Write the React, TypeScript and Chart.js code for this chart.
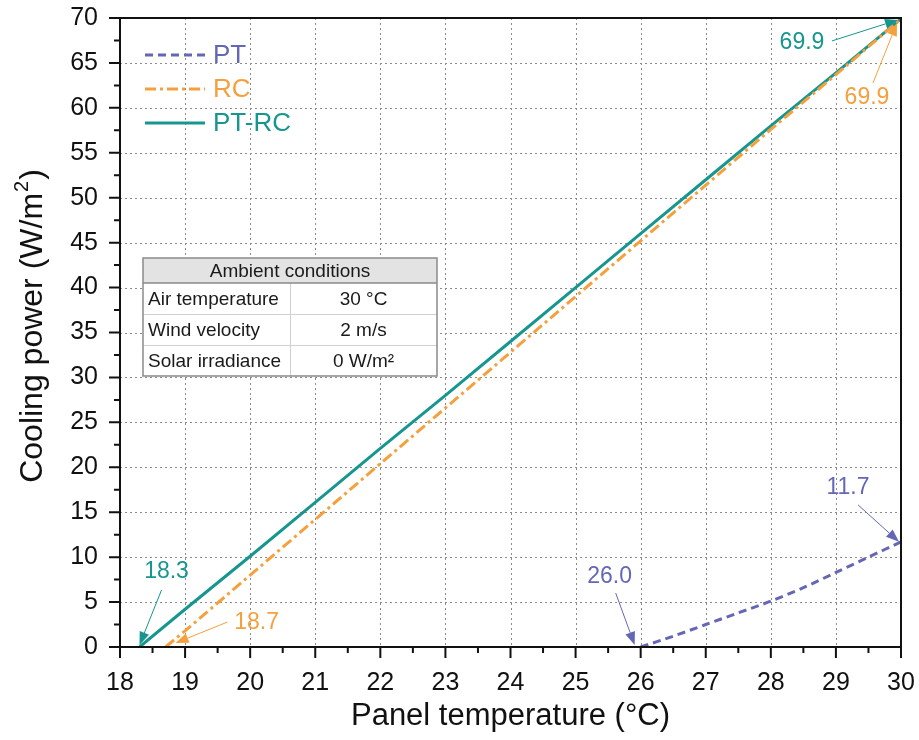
import React, { useEffect, useRef } from "react";
import { Chart, registerables } from "chart.js";

Chart.register(...registerables);

// Cooling power vs panel temperature for three configurations
const ptTemp = [26, 26.5, 27, 27.5, 28, 28.5, 29, 29.5, 30];
const ptPower = [0, 1.2, 2.5, 3.8, 5.1, 6.6, 8.3, 10.0, 11.7];

const rcTemp = [18.7, 19, 20, 21, 22, 23, 24, 25, 26, 27, 28, 29, 30];
const rcPower = [0, 1.8, 8.0, 14.2, 20.4, 26.6, 32.8, 39.0, 45.2, 51.4, 57.6, 63.7, 69.9];

const ptrcTemp = [18.3, 19, 20, 21, 22, 23, 24, 25, 26, 27, 28, 29, 30];
const ptrcPower = [0, 4.2, 10.1, 16.1, 22.1, 28.0, 34.0, 40.0, 46.0, 52.0, 58.0, 63.9, 69.9];

const seriesLabels = ["PT", "RC", "PT-RC"];

const xTitle = "Panel temperature (°C)";
const yTitleMain = "Cooling power (W/m";
const yTitleSup = "2";
const yTitleEnd = ")";

// Ambient conditions table
const tableTitle = "Ambient conditions";
const tableRows = [
  ["Air temperature", "30 °C"],
  ["Wind velocity", "2 m/s"],
  ["Solar irradiance", "0 W/m²"],
];

const X_MIN = 18;
const X_MAX = 30;
const Y_MIN = 0;
const Y_MAX = 70;

const COLORS = {
  pt: "#6467b5",
  rc: "#f5a03c",
  ptrc: "#16968f",
};

const FONT = "'Liberation Sans', Arial, Helvetica, sans-serif";

// Value callouts: the data point, the text offset and the arrow geometry (pixels)
const callouts = [
  { x: 30, y: 69.9, text: "69.9", color: COLORS.ptrc, dx: -99, dy: 24, tailDx: -69, tailDy: 22, tipDx: -3, tipDy: 1 },
  { x: 30, y: 69.9, text: "69.9", color: COLORS.rc, dx: -34, dy: 79, tailDx: -28, tailDy: 64, tipDx: -4, tipDy: 4 },
  { x: 18.3, y: 0, text: "18.3", color: COLORS.ptrc, dx: 27, dy: -75, tailDx: 22, tailDy: -57, tipDx: 0, tipDy: -2 },
  { x: 18.7, y: 0, text: "18.7", color: COLORS.rc, dx: 91, dy: -24, tailDx: 62, tailDy: -25, tipDx: 10, tipDy: -4 },
  { x: 26, y: 0, text: "26.0", color: COLORS.pt, dx: -31, dy: -70, tailDx: -25, tailDy: -54, tipDx: -6, tipDy: -2 },
  { x: 30, y: 11.7, text: "11.7", color: COLORS.pt, dx: -53, dy: -54, tailDx: -43, tailDy: -37, tipDx: -2, tipDy: 0 },
];

function drawArrow(ctx: CanvasRenderingContext2D, x1: number, y1: number, x2: number, y2: number, color: string) {
  const ang = Math.atan2(y2 - y1, x2 - x1);
  const headLen = 13;
  const headW = 5;
  const bx = x2 - headLen * Math.cos(ang);
  const by = y2 - headLen * Math.sin(ang);
  ctx.save();
  ctx.strokeStyle = color;
  ctx.fillStyle = color;
  ctx.lineWidth = 1;
  ctx.setLineDash([]);
  ctx.beginPath();
  ctx.moveTo(x1, y1);
  ctx.lineTo(bx, by);
  ctx.stroke();
  ctx.beginPath();
  ctx.moveTo(x2, y2);
  ctx.lineTo(bx + headW * Math.sin(ang), by - headW * Math.cos(ang));
  ctx.lineTo(bx - headW * Math.sin(ang), by + headW * Math.cos(ang));
  ctx.closePath();
  ctx.fill();
  ctx.restore();
}

const decorPlugin = {
  id: "decor",
  beforeDatasetsDraw(chart: any) {
    const { ctx, chartArea: a, scales } = chart;
    const xs = scales.x;
    const ys = scales.y;
    ctx.save();
    ctx.strokeStyle = "#8c8c8c";
    ctx.lineWidth = 1;
    ctx.setLineDash([2, 3]);
    xs.ticks.forEach((t: any) => {
      if (t.value <= X_MIN || t.value >= X_MAX) return;
      const px = Math.round(xs.getPixelForValue(t.value)) + 0.5;
      ctx.beginPath();
      ctx.moveTo(px, a.top);
      ctx.lineTo(px, a.bottom);
      ctx.stroke();
    });
    ys.ticks.forEach((t: any) => {
      if (t.value <= Y_MIN || t.value >= Y_MAX) return;
      const py = Math.round(ys.getPixelForValue(t.value)) + 0.5;
      ctx.beginPath();
      ctx.moveTo(a.left, py);
      ctx.lineTo(a.right, py);
      ctx.stroke();
    });
    ctx.restore();
  },
  afterDatasetsDraw(chart: any) {
    const { ctx, chartArea: a, scales } = chart;
    const xs = scales.x;
    const ys = scales.y;

    // plot frame
    ctx.save();
    ctx.setLineDash([]);
    ctx.strokeStyle = "#111";
    ctx.lineWidth = 2;
    ctx.strokeRect(a.left, a.top, a.right - a.left, a.bottom - a.top);

    // major and minor tick marks, pointing outward
    const major = 11;
    const minor = 6;
    const xv = xs.ticks.map((t: any) => t.value);
    ctx.beginPath();
    xv.forEach((v: number, i: number) => {
      const px = xs.getPixelForValue(v);
      ctx.moveTo(px, a.bottom);
      ctx.lineTo(px, a.bottom + major);
      if (i < xv.length - 1) {
        const mx = xs.getPixelForValue((v + xv[i + 1]) / 2);
        ctx.moveTo(mx, a.bottom);
        ctx.lineTo(mx, a.bottom + minor);
      }
    });
    const yv = ys.ticks.map((t: any) => t.value);
    yv.forEach((v: number, i: number) => {
      const py = ys.getPixelForValue(v);
      ctx.moveTo(a.left, py);
      ctx.lineTo(a.left - major, py);
      if (i < yv.length - 1) {
        const my = ys.getPixelForValue((v + yv[i + 1]) / 2);
        ctx.moveTo(a.left, my);
        ctx.lineTo(a.left - minor, my);
      }
    });
    ctx.stroke();
    ctx.restore();

    // axis titles
    ctx.save();
    ctx.fillStyle = "#111";
    ctx.textBaseline = "middle";
    ctx.textAlign = "center";
    ctx.font = `31px ${FONT}`;
    ctx.fillText(xTitle, (a.left + a.right) / 2, 716);

    ctx.translate(33, 326);
    ctx.rotate(-Math.PI / 2);
    const mainFont = `32px ${FONT}`;
    const supFont = `20px ${FONT}`;
    ctx.font = mainFont;
    const wMain = ctx.measureText(yTitleMain).width;
    const wEnd = ctx.measureText(yTitleEnd).width;
    ctx.font = supFont;
    const wSup = ctx.measureText(yTitleSup).width + 2;
    const total = wMain + wSup + wEnd;
    let cx = -total / 2;
    ctx.textAlign = "left";
    ctx.font = mainFont;
    ctx.fillText(yTitleMain, cx, 0);
    cx += wMain;
    ctx.font = supFont;
    ctx.fillText(yTitleSup, cx + 1, -11);
    cx += wSup;
    ctx.font = mainFont;
    ctx.fillText(yTitleEnd, cx, 0);
    ctx.restore();

    // legend
    ctx.save();
    const legendX = a.left + 25;
    const legendY = a.top + 37;
    const legendGap = 34;
    chart.data.datasets.forEach((ds: any, i: number) => {
      const y = legendY + i * legendGap;
      ctx.strokeStyle = ds.borderColor;
      ctx.lineWidth = ds.borderWidth;
      ctx.setLineDash(ds.borderDash || []);
      ctx.beginPath();
      ctx.moveTo(legendX, y);
      ctx.lineTo(legendX + 60, y);
      ctx.stroke();
      ctx.setLineDash([]);
      ctx.fillStyle = ds.borderColor;
      ctx.font = `26px ${FONT}`;
      ctx.textBaseline = "middle";
      ctx.textAlign = "left";
      ctx.fillText(ds.label, legendX + 68, y + 1);
    });
    ctx.restore();

    // ambient conditions table
    ctx.save();
    const tx = 143;
    const ty = 258;
    const tw = 294;
    const headH = 25;
    const rowH = 31;
    const colSplit = 147;
    const th = headH + rowH * tableRows.length;
    ctx.fillStyle = "#ffffff";
    ctx.fillRect(tx, ty, tw, th);
    ctx.fillStyle = "#e3e3e3";
    ctx.fillRect(tx, ty, tw, headH);
    ctx.strokeStyle = "#d0d0d0";
    ctx.lineWidth = 1;
    ctx.beginPath();
    for (let r = 1; r < tableRows.length; r++) {
      const y = Math.round(ty + headH + r * rowH) + 0.5;
      ctx.moveTo(tx, y);
      ctx.lineTo(tx + tw, y);
    }
    ctx.moveTo(tx + colSplit + 0.5, ty + headH);
    ctx.lineTo(tx + colSplit + 0.5, ty + th);
    ctx.stroke();
    ctx.strokeStyle = "#8a8a8a";
    ctx.lineWidth = 1.5;
    ctx.beginPath();
    ctx.moveTo(tx, ty + headH);
    ctx.lineTo(tx + tw, ty + headH);
    ctx.stroke();
    ctx.strokeRect(tx, ty, tw, th);
    ctx.fillStyle = "#1a1a1a";
    ctx.font = `19px ${FONT}`;
    ctx.textBaseline = "middle";
    ctx.textAlign = "center";
    ctx.fillText(tableTitle, tx + tw / 2, ty + headH / 2 + 1);
    tableRows.forEach((row, r) => {
      const cy = ty + headH + r * rowH + rowH / 2 + 1;
      ctx.textAlign = "left";
      ctx.fillText(row[0], tx + 5, cy);
      ctx.textAlign = "center";
      ctx.fillText(row[1], tx + colSplit + (tw - colSplit) / 2, cy);
    });
    ctx.restore();

    // value callouts
    ctx.save();
    callouts.forEach((c) => {
      const px = xs.getPixelForValue(c.x);
      const py = ys.getPixelForValue(c.y);
      ctx.fillStyle = c.color;
      ctx.font = `23px ${FONT}`;
      ctx.textAlign = "center";
      ctx.textBaseline = "middle";
      ctx.fillText(c.text, px + c.dx, py + c.dy);
      drawArrow(ctx, px + c.tailDx, py + c.tailDy, px + c.tipDx, py + c.tipDy, c.color);
    });
    ctx.restore();
  },
};

function toPoints(xs: number[], ys: number[]) {
  return xs.map((x, i) => ({ x, y: ys[i] }));
}

export default function App() {
  const canvasRef = useRef<HTMLCanvasElement | null>(null);

  useEffect(() => {
    document.body.style.margin = "0";
    const canvas = canvasRef.current;
    if (!canvas) return;
    const chart = new Chart(canvas, {
      type: "scatter",
      data: {
        datasets: [
          {
            label: seriesLabels[0],
            data: toPoints(ptTemp, ptPower),
            showLine: true,
            borderColor: COLORS.pt,
            backgroundColor: COLORS.pt,
            borderWidth: 3,
            borderDash: [8, 5],
            pointRadius: 0,
            tension: 0.3,
          },
          {
            label: seriesLabels[1],
            data: toPoints(rcTemp, rcPower),
            showLine: true,
            borderColor: COLORS.rc,
            backgroundColor: COLORS.rc,
            borderWidth: 3,
            borderDash: [11, 4, 3, 4],
            pointRadius: 0,
          },
          {
            label: seriesLabels[2],
            data: toPoints(ptrcTemp, ptrcPower),
            showLine: true,
            borderColor: COLORS.ptrc,
            backgroundColor: COLORS.ptrc,
            borderWidth: 3,
            pointRadius: 0,
          },
        ],
      },
      options: {
        responsive: false,
        animation: false,
        devicePixelRatio: 1,
        layout: { padding: { top: 18, right: 18, left: 0, bottom: 0 } },
        plugins: {
          legend: { display: false },
          tooltip: { enabled: false },
        },
        scales: {
          x: {
            type: "linear",
            min: X_MIN,
            max: X_MAX,
            grid: { display: false, drawTicks: false },
            border: { display: false },
            ticks: {
              stepSize: 1,
              padding: 21,
              color: "#111",
              font: { family: FONT, size: 25 },
              maxRotation: 0,
              autoSkip: false,
            },
            afterFit(scale: any) {
              scale.height = 93;
              scale.paddingLeft = 0;
              scale.paddingRight = 0;
            },
          },
          y: {
            type: "linear",
            min: Y_MIN,
            max: Y_MAX,
            grid: { display: false, drawTicks: false },
            border: { display: false },
            ticks: {
              stepSize: 5,
              padding: 22,
              color: "#111",
              font: { family: FONT, size: 25 },
              autoSkip: false,
            },
            afterFit(scale: any) {
              scale.width = 120;
              scale.paddingTop = 0;
              scale.paddingBottom = 0;
            },
          },
        },
      },
      plugins: [decorPlugin],
    });
    return () => chart.destroy();
  }, []);

  return (
    <div style={{ width: 919, height: 740, background: "#fff" }}>
      <canvas ref={canvasRef} width={919} height={740} style={{ display: "block" }} />
    </div>
  );
}
